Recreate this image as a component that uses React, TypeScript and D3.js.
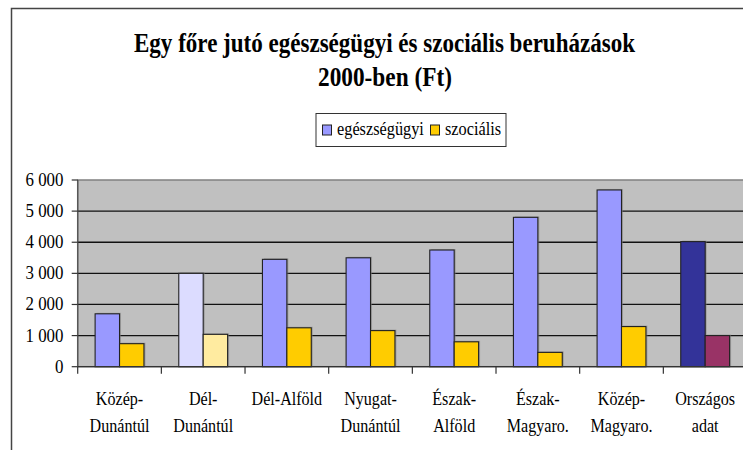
import React from "react";
import * as d3 from "d3";

const categories: string[][] = [
  ["Közép-", "Dunántúl"],
  ["Dél-", "Dunántúl"],
  ["Dél-Alföld"],
  ["Nyugat-", "Dunántúl"],
  ["Észak-", "Alföld"],
  ["Észak-", "Magyaro."],
  ["Közép-", "Magyaro."],
  ["Országos", "adat"],
];
const egeszsegugyi = [1700, 3000, 3450, 3500, 3750, 4800, 5680, 4020];
const szocialis = [740, 1040, 1250, 1160, 800, 460, 1290, 1000];
const yTicks = [0, 1000, 2000, 3000, 4000, 5000, 6000];
const seriesNames = ["egészségügyi", "szociális"];

const egColors = ["#9999FF", "#DCDCFF", "#9999FF", "#9999FF", "#9999FF", "#9999FF", "#9999FF", "#333399"];
const szColors = ["#FFCC00", "#FFEBA0", "#FFCC00", "#FFCC00", "#FFCC00", "#FFCC00", "#FFCC00", "#993366"];
const legendColors = ["#9999FF", "#FFCC00"];

const W = 743;
const H = 450;
const plotLeft = 77.7;
const plotRight = 747;
const plotTop = 180;
const plotBottom = 366.7;
const SY = 1.22;
const FONT = "'Liberation Serif', 'Times New Roman', serif";

const fmt = (v: number) => {
  const s = String(v);
  return s.length > 3 ? s.slice(0, s.length - 3) + " " + s.slice(-3) : s;
};

function T(props: { x: number; y: number; size: number; anchor?: string; children: React.ReactNode; sy?: number }) {
  const { x, y, size, anchor = "middle", children, sy = SY } = props;
  return (
    <text
      transform={`translate(${x},${y}) scale(1,${sy})`}
      style={{ fontFamily: FONT, fontSize: size }}
      textAnchor={anchor}
      fill="#000"
    >
      {children}
    </text>
  );
}

export default function App() {
  const x = d3.scaleBand<number>().domain(d3.range(categories.length)).range([plotLeft, plotRight]).paddingInner(0).paddingOuter(0);
  const xs = d3.scaleBand<number>().domain([0, 1]).range([0, x.bandwidth()]).paddingInner(0).paddingOuter(0.713);
  const y = d3.scaleLinear().domain([0, 6000]).range([plotBottom, plotTop]);
  const series = [egeszsegugyi, szocialis];
  const colors = [egColors, szColors];

  return (
    <svg width={W} height={H} style={{ position: "absolute", left: 0, top: 0 }} xmlns="http://www.w3.org/2000/svg">
      <rect x={0} y={0} width={W} height={H} fill="#fff" />
      <defs>
        <clipPath id="clip">
          <rect x={0} y={0} width={W} height={H} />
        </clipPath>
      </defs>
      {/* outer frame */}
      <rect x={11.5} y={8.5} width={W + 20} height={H + 20} fill="none" stroke="#444" strokeWidth={1.5} />

      {/* title */}
      <text x={384.5} y={52} style={{ fontFamily: FONT, fontSize: 28, fontWeight: "bold" }} textAnchor="middle" textLength={501} lengthAdjust="spacingAndGlyphs">
        Egy főre jutó egészségügyi és szociális beruházások
      </text>
      <text x={385} y={86} style={{ fontFamily: FONT, fontSize: 28, fontWeight: "bold" }} textAnchor="middle" textLength={134} lengthAdjust="spacingAndGlyphs">
        2000-ben (Ft)
      </text>

      {/* legend */}
      <rect x={316} y={113.5} width={190} height={33} fill="#fff" stroke="#333" strokeWidth={1} />
      {seriesNames.map((n, i) => {
        const lx = i === 0 ? 322.5 : 430.5;
        return (
          <g key={n}>
            <rect x={lx} y={125} width={9} height={10} fill={legendColors[i]} stroke="#222" strokeWidth={1} />
            <T x={lx + 14.5} y={135} size={16.3} anchor="start">{n}</T>
          </g>
        );
      })}

      <g clipPath="url(#clip)">
        {/* plot area */}
        <rect x={plotLeft} y={plotTop} width={plotRight - plotLeft} height={plotBottom - plotTop} fill="#C0C0C0" stroke="#808080" strokeWidth={1.5} />
        {yTicks.filter((t) => t > 0 && t < 6000).map((t) => (
          <line key={t} x1={plotLeft} x2={plotRight} y1={y(t)} y2={y(t)} stroke="#111" strokeWidth={1.3} />
        ))}

        {/* bars */}
        {categories.map((_, ci) => (
          <g key={ci}>
            {series.map((s, si) => {
              const bx = (x(ci) as number) + (xs(si) as number);
              const by = y(s[ci]);
              return (
                <g key={si}>
                  <rect x={bx + 1.5} y={by - 1} width={xs.bandwidth()} height={plotBottom - by + 1} fill="#808080" opacity={0.55} />
                  <rect x={bx} y={by} width={xs.bandwidth()} height={plotBottom - by} fill={colors[si][ci]} stroke="#222" strokeWidth={1.1} />
                </g>
              );
            })}
          </g>
        ))}

        {/* axes */}
        <line x1={plotLeft} x2={plotLeft} y1={plotTop} y2={plotBottom} stroke="#555" strokeWidth={1.3} />
        <line x1={plotLeft} x2={plotRight} y1={plotBottom} y2={plotBottom} stroke="#333" strokeWidth={1.3} />
        {yTicks.map((t) => (
          <line key={t} x1={plotLeft - 6} x2={plotLeft} y1={y(t)} y2={y(t)} stroke="#333" strokeWidth={1.2} />
        ))}
        {d3.range(categories.length + 1).map((i) => {
          const tx = i < categories.length ? (x(i) as number) : plotRight;
          return <line key={i} x1={tx} x2={tx} y1={plotBottom} y2={plotBottom + 7} stroke="#333" strokeWidth={1.2} />;
        })}
      </g>

      {/* y tick labels */}
      {yTicks.map((t) => (
        <T key={t} x={63.5} y={y(t) + 6} size={16.9} anchor="end" sy={1.12}>{fmt(t)}</T>
      ))}

      {/* category labels */}
      {categories.map((lines, ci) => {
        const cx = (x(ci) as number) + x.bandwidth() / 2;
        return (
          <g key={ci}>
            {lines.map((l, li) => (
              <T key={li} x={cx} y={405 + li * 26.5} size={16.1}>{l}</T>
            ))}
          </g>
        );
      })}
    </svg>
  );
}
